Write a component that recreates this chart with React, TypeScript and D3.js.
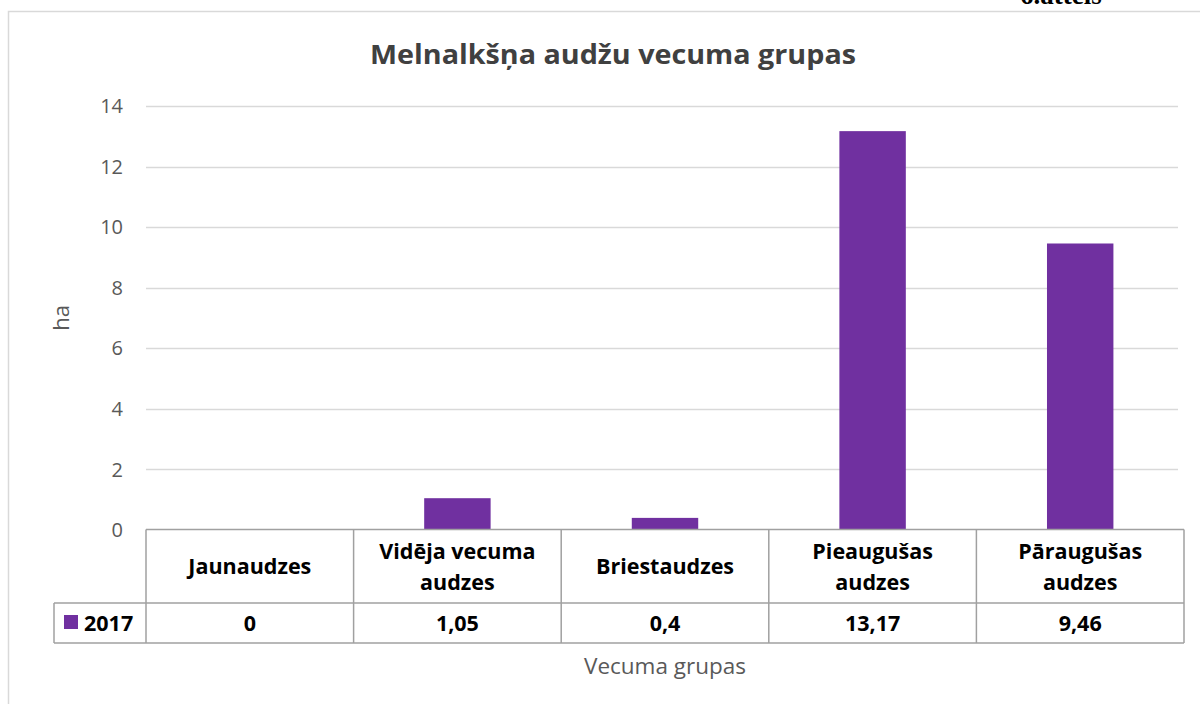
import React from "react";
import * as d3 from "d3";

const categories = ["Jaunaudzes", "Vidēja vecuma audzes", "Briestaudzes", "Pieaugušas audzes", "Pāraugušas audzes"];
const categoryLines = [["Jaunaudzes"], ["Vidēja vecuma", "audzes"], ["Briestaudzes"], ["Pieaugušas", "audzes"], ["Pāraugušas", "audzes"]];
const seriesName = "2017";
const values2017 = [0, 1.05, 0.4, 13.17, 9.46];
const yTicks = [0, 2, 4, 6, 8, 10, 12, 14];
const title = "Melnalkšņa audžu vecuma grupas";
const yTitle = "ha";
const xTitle = "Vecuma grupas";
const caption = "6.attēls";

const W = 1200, H = 704;
const plotL = 146, plotR = 1184, plotT = 106, plotB = 530;
const row1B = 603, row2B = 643, legendL = 54;
const barColor = "#7030a0";
const font = "'Open Sans', 'Noto Sans', sans-serif";

export default function App() {
  const x = d3.scaleBand<string>().domain(categories).range([plotL, plotR]).paddingInner(0).paddingOuter(0);
  const y = d3.scaleLinear().domain([0, 14]).range([plotB, plotT]);
  const bw = x.bandwidth() * 0.32;
  const fmt = (v: number) => String(v).replace(".", ",");
  const bounds = [...categories.map((c) => x(c) as number), plotR];

  return (
    <svg width={W} height={H} style={{ position: "absolute", left: 0, top: 0, background: "#fff" }}>
      <text x={1020} y={4} fontFamily="'Liberation Serif', serif" fontWeight="bold" fontSize={27} fill="#000">{caption}</text>
      <rect x={8.5} y={11.5} width={1300} height={800} fill="none" stroke="#d9d9d9" strokeWidth={1.5} />
      <text x={613} y={64} textAnchor="middle" fontFamily={font} fontWeight="bold" fontSize={26.5} fill="#404040" textLength={486} lengthAdjust="spacingAndGlyphs">{title}</text>
      {yTicks.map((t) => (
        <g key={t}>
          {t > 0 && <line x1={plotL} x2={plotR - 6} y1={Math.round(y(t)) + 0.5} y2={Math.round(y(t)) + 0.5} stroke="#d9d9d9" strokeWidth={1.5} />}
          <text x={123} y={y(t)} dy="0.36em" textAnchor="end" fontFamily={font} fontSize={20} fill="#595959">{t}</text>
        </g>
      ))}
      <text transform={`translate(69,318) rotate(-90)`} textAnchor="middle" fontFamily={font} fontSize={22} fill="#595959">{yTitle}</text>
      {categories.map((c, i) => (
        <rect key={c} x={(x(c) as number) + (x.bandwidth() - bw) / 2} y={y(values2017[i])} width={bw} height={plotB - y(values2017[i])} fill={barColor} />
      ))}
      {/* data table */}
      <g stroke="#a0a0a0" strokeWidth={1.5} fill="none">
        <line x1={plotL} x2={plotR} y1={plotB - 0.5} y2={plotB - 0.5} />
        <line x1={legendL} x2={plotR} y1={row1B} y2={row1B} />
        <line x1={legendL} x2={plotR} y1={row2B} y2={row2B} />
        <line x1={legendL} x2={legendL} y1={row1B} y2={row2B} />
        {bounds.map((b, i) => (
          <line key={i} x1={b} x2={b} y1={plotB - 0.5} y2={row2B} />
        ))}
      </g>
      {categories.map((c, i) => {
        const cx = (x(c) as number) + x.bandwidth() / 2;
        const lines = categoryLines[i];
        const midY = (plotB + row1B) / 2;
        const lh = 31;
        return (
          <g key={c}>
            {lines.map((l, j) => (
              <text key={j} x={cx} y={midY + (j - (lines.length - 1) / 2) * lh} dy="0.36em" textAnchor="middle" fontFamily={font} fontWeight="bold" fontSize={21.5} fill="#000">{l}</text>
            ))}
            <text x={cx} y={(row1B + row2B) / 2} dy="0.36em" textAnchor="middle" fontFamily={font} fontWeight="bold" fontSize={21.5} fill="#000">{fmt(values2017[i])}</text>
          </g>
        );
      })}
      <rect x={64} y={615} width={14} height={14} fill={barColor} />
      <text x={84} y={(row1B + row2B) / 2} dy="0.36em" fontFamily={font} fontWeight="bold" fontSize={21.5} fill="#000">{seriesName}</text>
      <text x={665} y={666} dy="0.36em" textAnchor="middle" fontFamily={font} fontSize={22.5} fill="#595959">{xTitle}</text>
    </svg>
  );
}
